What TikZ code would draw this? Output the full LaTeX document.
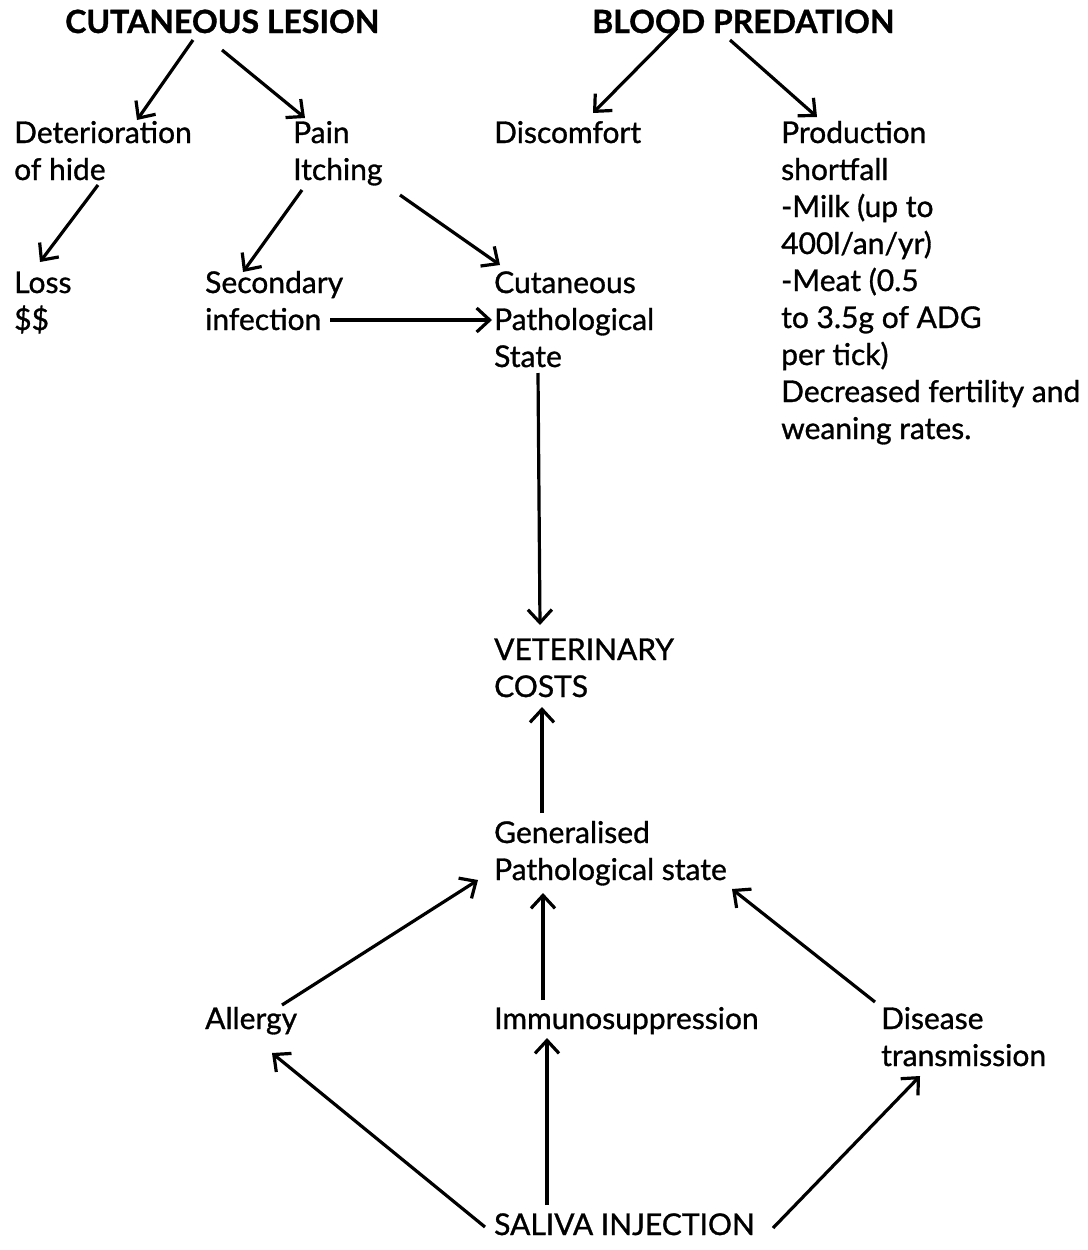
\documentclass[tikz,border=0pt]{standalone}
\usepackage{fontspec}
\setmainfont{Lato}[FakeBold=1]
\usetikzlibrary{arrows.meta}

\begin{document}
\begin{tikzpicture}[x=1pt,y=-1pt,
    txt/.style={anchor=base west,inner sep=0pt,align=left,font=\fontsize{30}{37}\selectfont},
    head/.style={txt,font=\fontsize{32}{37}\selectfont\bfseries},
    arr/.style={line width=3.2pt,-{Straight Barb[length=13pt,width=24pt,line width=3.2pt]}}]
      \useasboundingbox (0,0) rectangle (1087,1250);

      \node[head] (cutlesion) at (65,33) {CUTANEOUS LESION};
      \node[head] (bloodpred) at (592,33) {BLOOD PREDATION};

      \node[txt] (deter) at (14,180) {Deterioration\\of hide};
      \node[txt] (pain) at (293,180) {Pain\\Itching};
      \node[txt] (discomf) at (494,143) {Discomfort};
      \node[txt] (prod) at (781,439) {Production\\shortfall\\-Milk (up to\\400l/an/yr)\\-Meat (0.5\\to 3.5g of ADG\\per tick)\\Decreased fertility and\\weaning rates.};

      \node[txt] (loss) at (14,330) {Loss\\\$\$};
      \node[txt] (secinf) at (205,330) {Secondary\\infection};
      \node[txt] (cutpath) at (494,367) {Cutaneous\\Pathological\\State};

      \node[txt] (vetcost) at (494,697) {VETERINARY\\COSTS};
      \node[txt] (genpath) at (494,880) {Generalised\\Pathological state};

      \node[txt] (allergy) at (205,1029) {Allergy};
      \node[txt] (immuno) at (494,1029) {Immunosuppression};
      \node[txt] (disease) at (881,1066) {Disease\\transmission};
      \node[txt] (saliva) at (494,1235) {SALIVA INJECTION};

      \draw[arr] ([shift={(128,7)}]cutlesion.base west) -- ([shift={(123,-60)}]deter.base west);
      \draw[arr] ([shift={(157,17)}]cutlesion.base west) -- ([shift={(12,-62)}]pain.base west);
      \draw[arr] ([shift={(85,-5)}]bloodpred.base west) -- ([shift={(99,-30)}]discomf.base west);
      \draw[arr] ([shift={(138,7)}]bloodpred.base west) -- ([shift={(36,-322)}]prod.base west);

      \draw[arr] ([shift={(84,5)}]deter.base west) -- ([shift={(26,-68)}]loss.base west);
      \draw[arr] ([shift={(9,10)}]pain.base west) -- ([shift={(38,-58)}]secinf.base west);
      \draw[arr] ([shift={(107,15)}]pain.base west) -- ([shift={(6,-102)}]cutpath.base west);
      \draw[arr] ([shift={(125,-10)}]secinf.base west) -- ([shift={(-2,-47)}]cutpath.base west);

      \draw[arr] ([shift={(44,6)}]cutpath.base west) -- ([shift={(46,-72)}]vetcost.base west);
      \draw[arr] ([shift={(48,-67)}]genpath.base west) -- ([shift={(48,10)}]vetcost.base west);

      \draw[arr] ([shift={(77,-24)}]allergy.base west) -- ([shift={(-16,0)}]genpath.base west);
      \draw[arr] ([shift={(49,-29)}]immuno.base west) -- ([shift={(49,13)}]genpath.base west);
      \draw[arr] ([shift={(-6,-64)}]disease.base west) -- ([shift={(238,9)}]genpath.base west);

      \draw[arr] ([shift={(-9,-8)}]saliva.base west) -- ([shift={(67,24)}]allergy.base west);
      \draw[arr] ([shift={(53,-30)}]saliva.base west) -- ([shift={(53,9)}]immuno.base west);
      \draw[arr] ([shift={(279,-7)}]saliva.base west) -- ([shift={(39,10)}]disease.base west);
    \end{tikzpicture}
\end{document}
